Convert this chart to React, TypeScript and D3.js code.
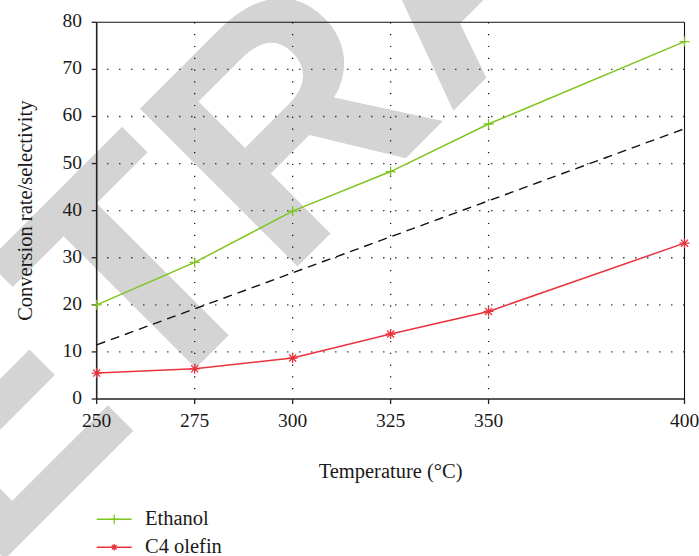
import React from "react";
import * as d3 from "d3";

// Reaction temperature (°C) for each measurement
const temperatures = [250, 275, 300, 325, 350, 400];
// Ethanol conversion rate (%)
const ethanolConversion = [20.0, 29.0, 39.9, 48.3, 58.4, 75.9];
// C4 olefin selectivity (%)
const c4OlefinSelectivity = [5.5, 6.4, 8.7, 13.8, 18.6, 33.1];
// Linear reference trend
const trendTemps = [250, 400];
const trendValues = [11.5, 57.4];

const xTicks = [250, 275, 300, 325, 350, 400];
const yTicks = [0, 10, 20, 30, 40, 50, 60, 70, 80];
const xGridTicks = [275, 300, 325, 350];
const yGridTicks = [10, 20, 30, 40, 50, 60, 70];

const seriesNames = ["Ethanol", "C4 olefin"];
const watermarkText = "RETRACTED";

const W = 699;
const H = 556;
const plot = { left: 96.7, right: 684.5, top: 22.3, bottom: 399 };

const GREEN = "#7fc41f";
const RED = "#e8333d";
const SERIF = '"Liberation Serif", "DejaVu Serif", "Times New Roman", serif';
const SANS = '"Liberation Sans", Arial, sans-serif';
const INK = "#1a1a1a";

function PlusMarker({ x, y, r, color }: { x: number; y: number; r: number; color: string }) {
  return (
    <path
      d={`M${x - r},${y}H${x + r}M${x},${y - r}V${y + r}`}
      stroke={color}
      strokeWidth={1.3}
      fill="none"
    />
  );
}

function StarMarker({ x, y, r, color }: { x: number; y: number; r: number; color: string }) {
  const d = r * Math.SQRT1_2;
  return (
    <path
      d={`M${x - r},${y}H${x + r}M${x},${y - r}V${y + r}M${x - d},${y - d}L${x + d},${y + d}M${x - d},${y + d}L${x + d},${y - d}`}
      stroke={color}
      strokeWidth={1.3}
      fill="none"
    />
  );
}

const serifText = (size: number): React.CSSProperties => ({ fontFamily: SERIF, fontSize: size });

export default function App() {
  const x = d3.scaleLinear().domain([250, 400]).range([plot.left, plot.right]);
  const y = d3.scaleLinear().domain([0, 80]).range([plot.bottom, plot.top]);

  const line = d3
    .line<[number, number]>()
    .x((d) => x(d[0]))
    .y((d) => y(d[1]));

  const ethanolPts: [number, number][] = temperatures.map((t, i) => [t, ethanolConversion[i]]);
  const c4Pts: [number, number][] = temperatures.map((t, i) => [t, c4OlefinSelectivity[i]]);
  const trendPts: [number, number][] = trendTemps.map((t, i) => [t, trendValues[i]]);

  return (
    <svg
      width={W}
      height={H}
      style={{ position: "absolute", left: 0, top: 0, background: "#fff" }}
    >
      {/* stamp behind the chart */}
      <text
        x={-176}
        y={740}
        transform="rotate(-45,-176,740)"
        style={{ fontFamily: SANS, fontWeight: 700, fontSize: 324 }}
        fill="#d4d4d4"
      >
        {watermarkText}
      </text>

      {/* dotted grid */}
      {yGridTicks.map((v) => (
        <line
          key={"gy" + v}
          x1={plot.left}
          x2={plot.right}
          y1={y(v)}
          y2={y(v)}
          stroke="#111"
          strokeWidth={1.3}
          strokeDasharray="1.2 10.8"
          strokeDashoffset={1.5}
        />
      ))}
      {xGridTicks.map((v) => (
        <line
          key={"gx" + v}
          x1={x(v)}
          x2={x(v)}
          y1={plot.top}
          y2={plot.bottom}
          stroke="#111"
          strokeWidth={1.3}
          strokeDasharray="1.2 10.6"
        />
      ))}

      {/* frame */}
      <line x1={plot.left} x2={plot.right} y1={plot.top} y2={plot.top} stroke="#111" strokeWidth={1.1} />
      <line x1={plot.right} x2={plot.right} y1={plot.top} y2={plot.bottom} stroke="#111" strokeWidth={1.1} />
      <line x1={plot.left} x2={plot.left} y1={plot.top} y2={plot.bottom} stroke="#222" strokeWidth={1.6} />
      <line x1={plot.left} x2={plot.right} y1={plot.bottom} y2={plot.bottom} stroke="#222" strokeWidth={1.6} />

      {/* ticks and tick labels */}
      {xTicks.map((v) => (
        <g key={"xt" + v}>
          <line x1={x(v)} x2={x(v)} y1={plot.bottom} y2={plot.bottom + 5} stroke="#222" strokeWidth={1.3} />
          <text x={x(v)} y={427} textAnchor="middle" style={serifText(19.5)} fill={INK}>
            {v}
          </text>
        </g>
      ))}
      {yTicks.map((v) => (
        <g key={"yt" + v}>
          <line x1={plot.left - 5} x2={plot.left} y1={y(v)} y2={y(v)} stroke="#222" strokeWidth={1.3} />
          <text x={82} y={y(v) + 5} textAnchor="end" style={serifText(19.5)} fill={INK}>
            {v}
          </text>
        </g>
      ))}

      {/* trend line */}
      <path d={line(trendPts) ?? ""} fill="none" stroke="#111" strokeWidth={1.4} strokeDasharray="9 6" />

      {/* series */}
      <path d={line(ethanolPts) ?? ""} fill="none" stroke={GREEN} strokeWidth={1.5} />
      {ethanolPts.map((p, i) => (
        <PlusMarker key={"e" + i} x={x(p[0])} y={y(p[1])} r={5} color={GREEN} />
      ))}
      <path d={line(c4Pts) ?? ""} fill="none" stroke={RED} strokeWidth={1.5} />
      {c4Pts.map((p, i) => (
        <StarMarker key={"c" + i} x={x(p[0])} y={y(p[1])} r={5} color={RED} />
      ))}

      {/* axis titles */}
      <text x={(plot.left + plot.right) / 2} y={477.5} textAnchor="middle" style={serifText(20.5)} fill={INK}>
        Temperature (°C)
      </text>
      <text
        transform={`translate(31.5,${(plot.top + plot.bottom) / 2}) rotate(-90)`}
        textAnchor="middle"
        style={serifText(20.5)}
        fill={INK}
      >
        Conversion rate/selectivity
      </text>

      {/* legend */}
      <g>
        <line x1={96.7} x2={131.7} y1={519.3} y2={519.3} stroke={GREEN} strokeWidth={1.5} />
        <PlusMarker x={114.2} y={519.3} r={4.5} color={GREEN} />
        <text x={145} y={524.7} style={serifText(20.5)} fill={INK}>
          {seriesNames[0]}
        </text>
        <line x1={96.7} x2={131.7} y1={547.3} y2={547.3} stroke={RED} strokeWidth={1.5} />
        <StarMarker x={114.2} y={547.3} r={3.2} color={RED} />
        <text x={145} y={552.7} style={serifText(20.5)} fill={INK}>
          {seriesNames[1]}
        </text>
      </g>
    </svg>
  );
}
